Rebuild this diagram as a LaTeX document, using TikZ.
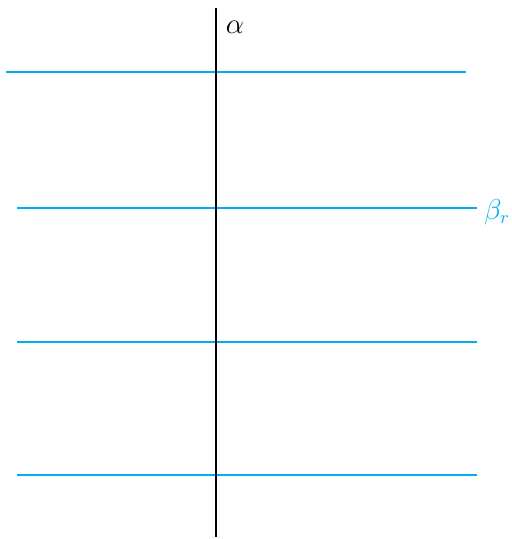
\documentclass[tikz,border=0pt]{standalone}
\definecolor{lcyan}{RGB}{0,174,239}
\begin{document}
\begin{tikzpicture}[x=0.5pt,y=-0.5pt,
  hline/.style={draw=lcyan,line width=1.3pt},
  vline/.style={draw=black,line width=1.1pt},
  lbl/.style={inner sep=0pt,font=\fontsize{13.5}{16}\selectfont}]
\useasboundingbox (0,0) rectangle (511,539);
\coordinate (h1a) at (6,72);   \coordinate (h1b) at (466,72);
\coordinate (h2a) at (17,208); \coordinate (h2b) at (477,208);
\coordinate (h3a) at (17,342); \coordinate (h3b) at (477,342);
\coordinate (h4a) at (17,475); \coordinate (h4b) at (477,475);
\coordinate (vt) at (216,8);   \coordinate (vb) at (216,537);
\draw[hline] (h1a) -- (h1b);
\draw[hline] (h2a) -- (h2b);
\draw[hline] (h3a) -- (h3b);
\draw[hline] (h4a) -- (h4b);
\draw[vline] (vt) -- (vb);
\node[lbl] (alpha) at (235,27) {$\alpha$};
\node[lbl,text=lcyan] (beta) at (497,212) {$\beta_r$};
\end{tikzpicture}
\end{document}
